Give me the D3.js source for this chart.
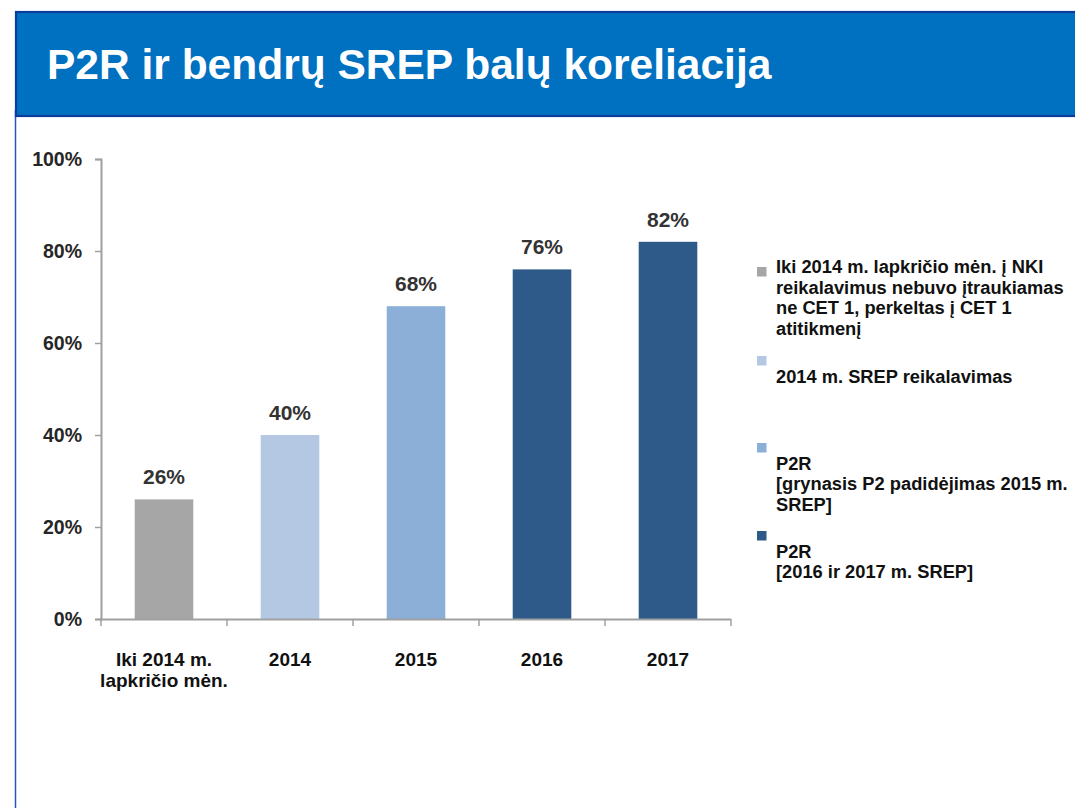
<!DOCTYPE html>
<html>
<head>
<meta charset="utf-8">
<script src="https://cdn.jsdelivr.net/npm/d3@7"></script>
<style>
  html, body { margin: 0; padding: 0; background: #fff; }
  svg { display: block; font-family: "Liberation Sans", Arial, sans-serif; }
</style>
</head>
<body>
<svg id="chart" width="1075" height="808"></svg>
<script>
// Chart data
const categories = [["Iki 2014 m.", "lapkričio mėn."], ["2014"], ["2015"], ["2016"], ["2017"]];
const values = [26, 40, 68, 76, 82];
const barColors = ["#a6a6a6", "#b4c8e4", "#8cafd7", "#2e5a8a", "#2e5a8a"];
const yTicks = [0, 20, 40, 60, 80, 100];
const legendItems = [
  ["Iki 2014 m. lapkričio mėn. į NKI", "reikalavimus nebuvo įtraukiamas", "ne CET 1, perkeltas į CET 1", "atitikmenį"],
  ["", "2014 m. SREP reikalavimas"],
  ["", "P2R", "[grynasis P2 padidėjimas 2015 m.", "SREP]"],
  ["", "P2R", "[2016 ir 2017 m. SREP]"]
];
const legendColors = ["#a6a6a6", "#b4c8e4", "#8cafd7", "#2e5a8a"];
const title = "P2R ir bendrų SREP balų koreliacija";

const svg = d3.select("#chart");

// Header band
svg.append("line")
  .attr("x1", 15.5).attr("x2", 15.5).attr("y1", 110).attr("y2", 808)
  .attr("stroke", "#2a52c9").attr("stroke-width", 1.5);
svg.append("rect")
  .attr("x", 16).attr("y", 12).attr("width", 1075).attr("height", 104)
  .attr("fill", "#0070c0").attr("stroke", "#0a3c9c").attr("stroke-width", 2.2);
svg.append("text")
  .attr("x", 47).attr("y", 79)
  .attr("fill", "#ffffff").attr("font-size", 42.5).attr("font-weight", "bold")
  .text(title);

// Plot scales
const x = d3.scaleBand()
  .domain(d3.range(categories.length))
  .range([101, 731])
  .paddingInner(0.535)
  .paddingOuter(0.2675);
const y = d3.scaleLinear().domain([0, 100]).range([619, 159]);

const axisColor = "#a0a0a0";
const textColor = "#262626";

// Y axis
const yAxis = svg.append("g")
  .attr("transform", "translate(101,0)")
  .call(d3.axisLeft(y).tickValues(yTicks).tickSize(6).tickPadding(13).tickFormat(d => d + "%"));
yAxis.select(".domain").attr("stroke", axisColor).attr("stroke-width", 2);
yAxis.selectAll(".tick line").attr("stroke", axisColor).attr("stroke-width", 1.5);
yAxis.selectAll(".tick text")
  .attr("fill", textColor).attr("font-size", 19.5).attr("font-weight", "bold")
  .attr("font-family", "Liberation Sans, Arial, sans-serif");

// Bars
svg.append("g").selectAll("rect")
  .data(values)
  .join("rect")
  .attr("x", (d, i) => x(i))
  .attr("y", d => y(d))
  .attr("width", x.bandwidth())
  .attr("height", d => y(0) - y(d))
  .attr("fill", (d, i) => barColors[i]);

// X axis line and category boundary ticks
const xAxis = svg.append("g");
xAxis.append("line")
  .attr("x1", 100).attr("x2", 731).attr("y1", 619.5).attr("y2", 619.5)
  .attr("stroke", axisColor).attr("stroke-width", 2);
const boundaries = d3.range(categories.length + 1).map(i => x.range()[0] + i * x.step());
xAxis.selectAll("line.bnd")
  .data(boundaries)
  .join("line")
  .attr("class", "bnd")
  .attr("x1", d => d).attr("x2", d => d)
  .attr("y1", 619).attr("y2", 626)
  .attr("stroke", axisColor).attr("stroke-width", 1.5);

// Category labels
const catG = svg.append("g").selectAll("text")
  .data(categories)
  .join("text")
  .attr("text-anchor", "middle")
  .attr("font-size", 19).attr("font-weight", "bold")
  .attr("fill", "#111");
catG.each(function(lines, i) {
  const t = d3.select(this);
  lines.forEach((ln, j) => {
    t.append("tspan")
      .attr("x", x(i) + x.bandwidth() / 2)
      .attr("y", 666 + j * 21)
      .text(ln);
  });
});

// Value labels
svg.append("g").selectAll("text")
  .data(values)
  .join("text")
  .attr("x", (d, i) => x(i) + x.bandwidth() / 2)
  .attr("y", d => y(d) - 15)
  .attr("text-anchor", "middle")
  .attr("font-size", 21).attr("font-weight", "bold")
  .attr("fill", "#333")
  .text(d => d + "%");

// Legend
const legendTop = [273, 362, 449, 537];
const lineH = 20.7;
const legend = svg.append("g");
legendItems.forEach((lines, i) => {
  const g = legend.append("g");
  g.append("rect")
    .attr("x", 757).attr("y", legendTop[i] - 6)
    .attr("width", 9.5).attr("height", 9.5)
    .attr("fill", legendColors[i]);
  const t = g.append("text")
    .attr("font-size", 18.3).attr("font-weight", "bold").attr("fill", "#111");
  lines.forEach((ln, j) => {
    if (!ln) return;
    t.append("tspan")
      .attr("x", 776)
      .attr("y", legendTop[i] + j * lineH)
      .text(ln);
  });
});
</script>
</body>
</html>
